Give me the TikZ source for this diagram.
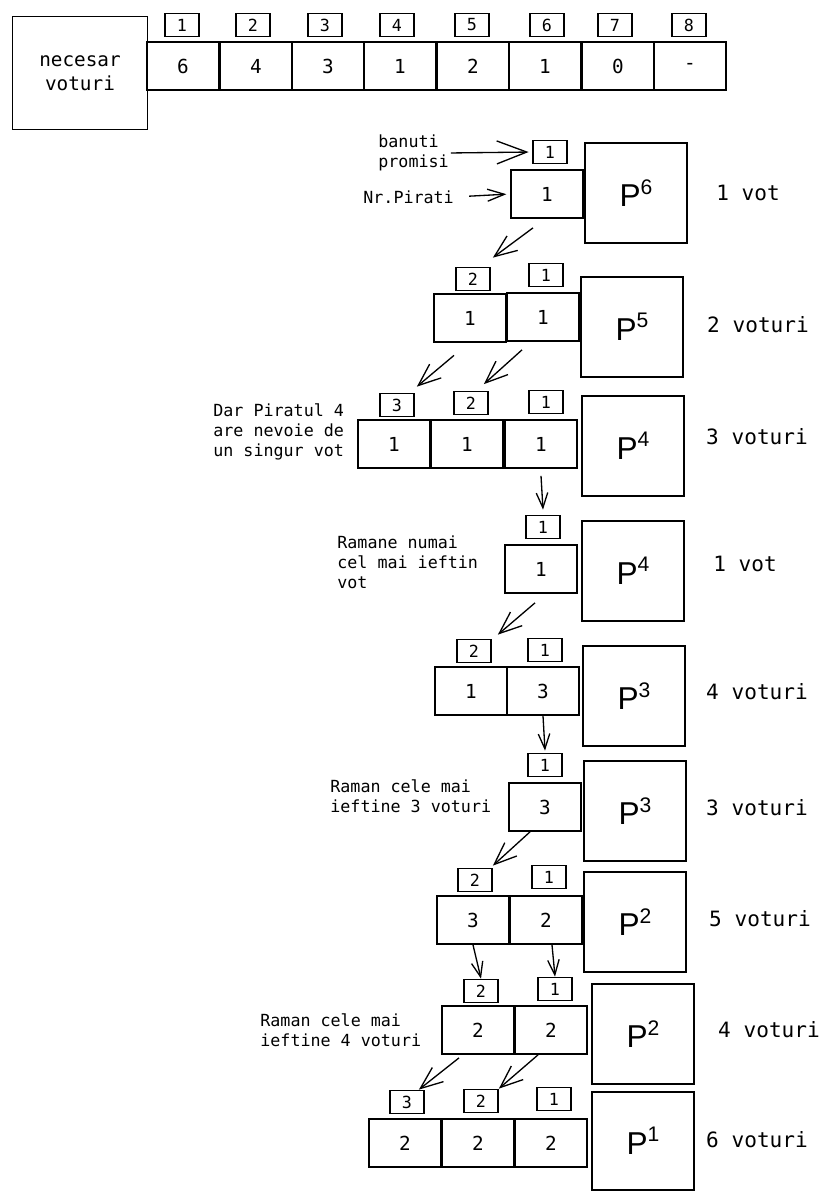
\documentclass[tikz,border=0pt]{standalone}
\usepackage{fontspec}
\setmonofont{DejaVu Sans Mono}
\newfontfamily\pfont{Liberation Sans}
\usepackage{tikz}
\usetikzlibrary{arrows.meta}

\newcommand{\pirat}[1]{P\raisebox{0.75ex}{\fontsize{12}{13}\selectfont #1}}

\tikzset{
	box/.style={draw, line width=1pt, inner sep=0pt},
	valbox/.style={box, minimum width=1.45cm, minimum height=0.96cm, font=\ttfamily\fontsize{11}{12}\selectfont},
	idxbox/.style={box, minimum width=0.68cm, minimum height=0.46cm, font=\ttfamily\fontsize{9.5}{11}\selectfont},
	pbox/.style={box, minimum width=2.04cm, minimum height=2cm, font=\pfont\fontsize{18}{20}\selectfont},
	votes/.style={font=\ttfamily\fontsize{12}{13}\selectfont},
	note/.style={align=left, inner sep=0pt, font=\ttfamily\fontsize{9.5}{11.5}\selectfont},
	arr/.style={line width=0.75pt, -{Straight Barb[length=4.5mm,width=3.6mm]}},
	arrd/.style={line width=0.75pt, -{Straight Barb[length=3mm,width=2.3mm]}},
}

\begin{document}
\begin{tikzpicture}[x=0.02cm, y=-0.02cm]
			\useasboundingbox (0,0) rectangle (825,1192);
			% tabelul de sus
			\node[box, minimum width=2.7cm, minimum height=2.26cm, align=center, font=\ttfamily\fontsize{11}{13.5}\selectfont] (nec) at (80,73) {necesar\\voturi};
			\node[valbox] (t1) at (183,66) {6};
			\node[valbox] (t2) at (256,66) {4};
			\node[valbox] (t3) at (328,66) {3};
			\node[valbox] (t4) at (400,66) {1};
			\node[valbox] (t5) at (473,66) {2};
			\node[valbox] (t6) at (545,66) {1};
			\node[valbox] (t7) at (618,66) {0};
			\node[valbox] (t8) at (690,66) {-};
			\node[idxbox] (k1) at (182,25) {1};
			\node[idxbox] (k2) at (253,25) {2};
			\node[idxbox] (k3) at (325,25) {3};
			\node[idxbox] (k4) at (397,25) {4};
			\node[idxbox] (k5) at (472,25) {5};
			\node[idxbox] (k6) at (547,25) {6};
			\node[idxbox] (k7) at (615,25) {7};
			\node[idxbox] (k8) at (689,25) {8};
			% P6
			\node[idxbox] (ia1) at (550,152) {1};
			\node[valbox] (va1) at (547,194) {1};
			\node[pbox] (pa) at (636,193) {\pirat{6}};
			\node[votes] (na) at (748,193) {1 vot};
			\node[note, anchor=west] (banuti) at (378,153) {banuti\\promisi};
			\node[note, anchor=west] (nrp) at (363,197) {Nr.Pirati};
			\draw[line width=0.75pt, -{Straight Barb[length=6mm,width=4.6mm]}, shorten <=1pt, shorten >=2pt] (banuti.east) -- (ia1.west);
			\draw[line width=0.75pt, -{Straight Barb[length=3.4mm,width=2.4mm]}, shorten <=0.3cm, shorten >=2pt] (nrp.east) -- (va1.west);
			% P5
			\node[idxbox] (ib2) at (473,279) {2};
			\node[idxbox] (ib1) at (546,275) {1};
			\node[valbox] (vb2) at (470,318) {1};
			\node[valbox] (vb1) at (543,317) {1};
			\node[pbox] (pb) at (632,327) {\pirat{5}};
			\node[votes] (nb) at (758,325) {2 voturi};
			\draw[arr] ([xshift=-0.28cm,yshift=-0.18cm]va1.south) -- ([xshift=0.04cm,yshift=0.18cm]ib2.north east);
			% P4
			\node[idxbox] (ic3) at (397,405) {3};
			\node[idxbox] (ic2) at (471,403) {2};
			\node[idxbox] (ic1) at (546,402) {1};
			\node[valbox] (vc3) at (394,444) {1};
			\node[valbox] (vc2) at (467,444) {1};
			\node[valbox] (vc1) at (541,444) {1};
			\node[pbox] (pc) at (633,446) {\pirat{4}};
			\node[votes] (nc) at (757,437) {3 voturi};
			\node[note, anchor=west] (dar) at (213,432) {Dar Piratul 4\\are nevoie de\\un singur vot};
			\draw[arr] ([xshift=-0.32cm,yshift=-0.25cm]vb2.south) -- ([xshift=0.04cm,yshift=0.12cm]ic3.north east);
			\draw[arr] ([xshift=-0.42cm,yshift=-0.16cm]vb1.south) -- ([xshift=-0.1cm,yshift=0.13cm]ic2.north east);
			% P4, un vot
			\node[idxbox] (id1) at (543,527) {1};
			\node[valbox] (vd1) at (541,569) {1};
			\node[pbox] (pd) at (633,571) {\pirat{4}};
			\node[votes] (nd) at (745,564) {1 vot};
			\node[note, anchor=west] (ramane) at (337,562) {Ramane numai\\cel mai ieftin\\vot};
			\draw[arrd] ([yshift=-0.14cm]vc1.south) -- ([yshift=0.1cm]id1.north);
			% P3
			\node[idxbox] (ie2) at (474,651) {2};
			\node[idxbox] (ie1) at (545,650) {1};
			\node[valbox] (ve2) at (471,691) {1};
			\node[valbox] (ve1) at (543,691) {3};
			\node[pbox] (pe) at (634,696) {\pirat{3}};
			\node[votes] (ne) at (757,692) {4 voturi};
			\draw[arr] ([xshift=-0.12cm,yshift=-0.18cm]vd1.south) -- ([xshift=0.12cm,yshift=0.08cm]ie2.north east);
			% P3, trei voturi
			\node[idxbox] (if1) at (545,765) {1};
			\node[valbox] (vf1) at (545,807) {3};
			\node[pbox] (pf) at (635,811) {\pirat{3}};
			\node[votes] (nf) at (757,808) {3 voturi};
			\node[note, anchor=west] (raman3) at (330,796) {Raman cele mai\\ieftine 3 voturi};
			\draw[arrd] (ve1.south) -- ([yshift=0.04cm]if1.north);
			% P2
			\node[idxbox] (ig2) at (475,880) {2};
			\node[idxbox] (ig1) at (549,877) {1};
			\node[valbox] (vg2) at (473,920) {3};
			\node[valbox] (vg1) at (546,920) {2};
			\node[pbox] (pg) at (635,922) {\pirat{2}};
			\node[votes] (ng) at (760,919) {5 voturi};
			\draw[arr] ([xshift=-0.3cm]vf1.south) -- ([yshift=0.04cm]ig2.north east);
			% P2, patru voturi
			\node[idxbox] (ih2) at (481,991) {2};
			\node[idxbox] (ih1) at (555,989) {1};
			\node[valbox] (vh2) at (478,1030) {2};
			\node[valbox] (vh1) at (551,1030) {2};
			\node[pbox] (ph) at (643,1034) {\pirat{2}};
			\node[votes] (nh) at (769,1030) {4 voturi};
			\node[note, anchor=west] (raman4) at (260,1030) {Raman cele mai\\ieftine 4 voturi};
			\draw[arrd] (vg2.south) -- (ih2.north);
			\draw[arrd] ([xshift=0.12cm]vg1.south) -- (ih1.north);
			% P1
			\node[idxbox] (ii3) at (407,1102) {3};
			\node[idxbox] (ii2) at (481,1101) {2};
			\node[idxbox] (ii1) at (554,1099) {1};
			\node[valbox] (vi3) at (405,1143) {2};
			\node[valbox] (vi2) at (478,1143) {2};
			\node[valbox] (vi1) at (551,1143) {2};
			\node[pbox, minimum height=1.96cm] (pi) at (643,1141) {\pirat{1}};
			\node[votes] (ni) at (757,1140) {6 voturi};
			\draw[arr] ([xshift=-0.38cm,yshift=-0.06cm]vh2.south) -- ([xshift=-0.12cm]ii3.north east);
			\draw[arr] ([xshift=-0.26cm]vh1.south) -- (ii2.north east);
		\end{tikzpicture}
\end{document}
